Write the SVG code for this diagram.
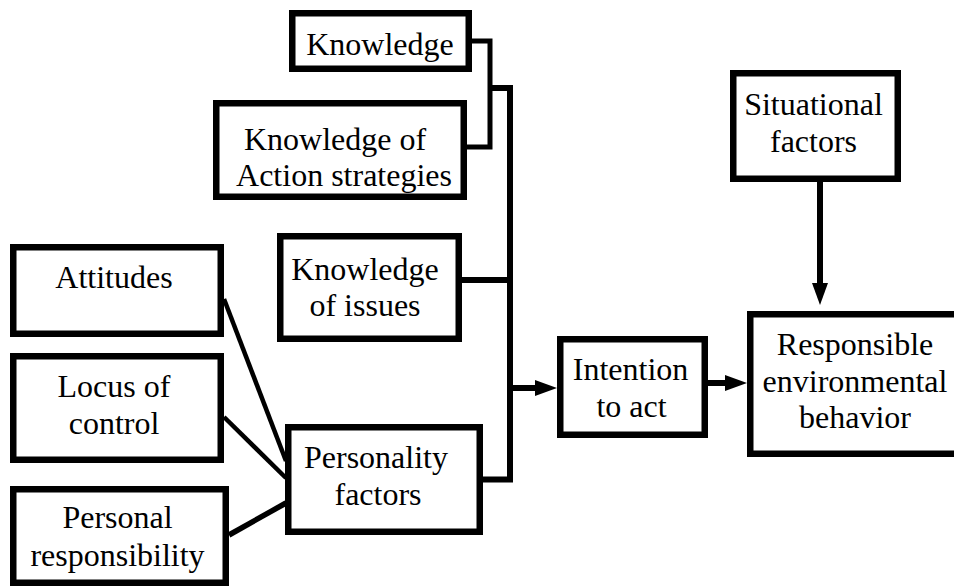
<svg xmlns="http://www.w3.org/2000/svg" width="954" height="586" viewBox="0 0 954 586">
<style>
.box{fill:#fff;stroke:#000;stroke-width:6.5}
text{font-family:'Liberation Serif','Times New Roman',Times,serif;font-size:32px;fill:#000;text-anchor:middle}
.c{fill:none;stroke:#000;stroke-width:6;stroke-linejoin:miter}
.k{fill:none;stroke:#000;stroke-width:5}
.d{fill:none;stroke:#000;stroke-width:4.5}
</style>
<defs>
<marker id="ah" viewBox="0 0 22 16" refX="1" refY="8" markerWidth="22" markerHeight="16" markerUnits="userSpaceOnUse" orient="auto">
<path d="M0,0 L22,8 L0,16 z" fill="#000"/>
</marker>
</defs>
<rect width="954" height="586" fill="#fff"/>
<g id="connectors">
<path class="k" d="M472,41 H490 V147 H467"/>
<path class="c" d="M490,88 H510 V479.5 H483"/>
<path class="c" d="M462,280 H510"/>
<path class="c" d="M510,388 H536" marker-end="url(#ah)"/>
<path class="c" d="M708,383 H726" marker-end="url(#ah)"/>
<path class="c" d="M820,182 V284" marker-end="url(#ah)"/>
<path class="d" d="M224,299 L286,461"/>
<path class="d" d="M224,417 L286,478"/>
<path class="d" style="stroke-width:5.5" d="M229,535 L286,503"/>
</g>
<g id="knowledge">
<rect class="box" x="292.25" y="13.25" width="176.5" height="55.5"/>
<text x="380" y="55">Knowledge</text>
</g>
<g id="knowledge-action">
<rect class="box" x="216.25" y="103.25" width="247.5" height="93.5"/>
<text x="335" y="150">Knowledge of</text>
<text x="344" y="186">Action strategies</text>
</g>
<g id="attitudes">
<rect class="box" x="13.25" y="247.25" width="207.5" height="86.5"/>
<text x="114" y="288">Attitudes</text>
</g>
<g id="locus">
<rect class="box" x="13.25" y="356.25" width="207.5" height="103.5"/>
<text x="114" y="397">Locus of</text>
<text x="114" y="434">control</text>
</g>
<g id="personal">
<rect class="box" x="13.25" y="489.25" width="212.5" height="93.5"/>
<text x="117.5" y="528">Personal</text>
<text x="117.5" y="566">responsibility</text>
</g>
<g id="knowledge-issues">
<rect class="box" x="280.25" y="236.25" width="178.5" height="102.5"/>
<text x="365" y="280">Knowledge</text>
<text x="365" y="316">of issues</text>
</g>
<g id="personality">
<rect class="box" x="288.25" y="427.25" width="191.5" height="104.5"/>
<text x="376" y="468">Personality</text>
<text x="378" y="505">factors</text>
</g>
<g id="intention">
<rect class="box" x="560.25" y="339.25" width="144.5" height="95.5"/>
<text x="630.5" y="380">Intention</text>
<text x="631.5" y="417">to act</text>
</g>
<g id="situational">
<rect class="box" x="733.25" y="73.25" width="164.5" height="105.5"/>
<text x="813.5" y="115">Situational</text>
<text x="813.5" y="152">factors</text>
</g>
<g id="behavior">
<rect class="box" x="750.25" y="314.25" width="222" height="139.5"/>
<text x="855" y="355">Responsible</text>
<text x="855" y="392">environmental</text>
<text x="855" y="428">behavior</text>
</g>
</svg>
